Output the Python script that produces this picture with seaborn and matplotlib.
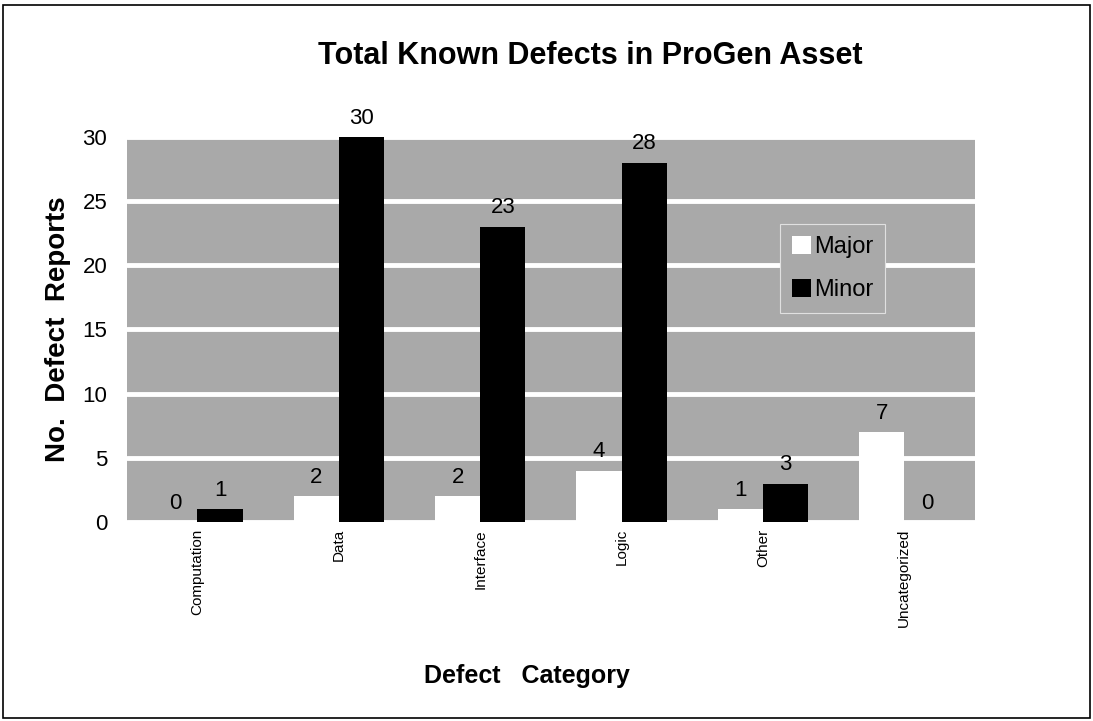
import pandas as pd
import numpy as np
import matplotlib
matplotlib.use("Agg")
import matplotlib.pyplot as plt
import matplotlib.patches as mpatches
import seaborn as sns

# Chart data
categories = ["Computation", "Data", "Interface", "Logic", "Other", "Uncategorized"]
major = [0, 2, 2, 4, 1, 7]
minor = [1, 30, 23, 28, 3, 0]
y_ticks = [0, 5, 10, 15, 20, 25, 30]

df = pd.DataFrame({
    "Category": categories * 2,
    "Severity": ["Major"] * len(categories) + ["Minor"] * len(categories),
    "Reports": major + minor,
})

sns.set_style("white")
plt.rcParams["font.family"] = ["Liberation Sans", "DejaVu Sans"]
plt.rcParams["text.color"] = "black"
plt.rcParams["xtick.color"] = "black"
plt.rcParams["ytick.color"] = "black"
plt.rcParams["axes.labelcolor"] = "black"

fig = plt.figure(figsize=(10.93, 7.21), dpi=100)
ax = fig.add_axes([0.116, 0.276, 0.776, 0.534])
ax.set_facecolor("#a9a9a9")

sns.barplot(data=df, x="Category", y="Reports", hue="Severity",
            palette={"Major": "white", "Minor": "black"},
            width=0.64, gap=0.0, ax=ax, legend=False, zorder=3,
            edgecolor="none", linewidth=0)

# value labels above each bar
for cont in ax.containers:
    ax.bar_label(cont, fmt="%d", padding=6, fontsize=16, color="black")

ax.set_ylim(0, 30)
ax.set_yticks(y_ticks)
ax.yaxis.grid(True, color="white", linewidth=3.5, zorder=0)
ax.set_axisbelow(True)
for s in ax.spines.values():
    s.set_visible(False)
ax.tick_params(axis="y", labelsize=16, length=0, pad=14)
ax.tick_params(axis="x", labelsize=11, length=0, pad=5, labelrotation=90)

ax.set_ylabel("No.  Defect  Reports", fontsize=20, fontweight="bold", labelpad=8)
ax.set_xlabel("")
fig.text(0.482, 0.062, "Defect   Category", fontsize=18, fontweight="bold",
         ha="center", va="center")
fig.text(0.54, 0.922, "Total Known Defects in ProGen Asset", fontsize=22,
         fontweight="bold", ha="center", va="center")

handles = [mpatches.Patch(facecolor="white", edgecolor="none", label="Major"),
           mpatches.Patch(facecolor="black", edgecolor="none", label="Minor")]
leg = ax.legend(handles=handles, loc="upper left", bbox_to_anchor=(0.703, 0.706),
                bbox_transform=fig.transFigure, fontsize=17, frameon=True,
                fancybox=False, handlelength=0.8, handleheight=0.8,
                handletextpad=0.15, labelspacing=0.9, borderpad=0.5)
leg.get_frame().set_facecolor("#a9a9a9")
leg.get_frame().set_edgecolor("#e0e0e0")
leg.get_frame().set_linewidth(0.8)
leg.get_frame().set_alpha(1)

# outer frame around the figure
fig.patches.append(mpatches.Rectangle((0.003, 0.004), 0.994, 0.989, fill=False,
                                      edgecolor="black", linewidth=1.2,
                                      transform=fig.transFigure))

fig.savefig("out.png", dpi=100)
